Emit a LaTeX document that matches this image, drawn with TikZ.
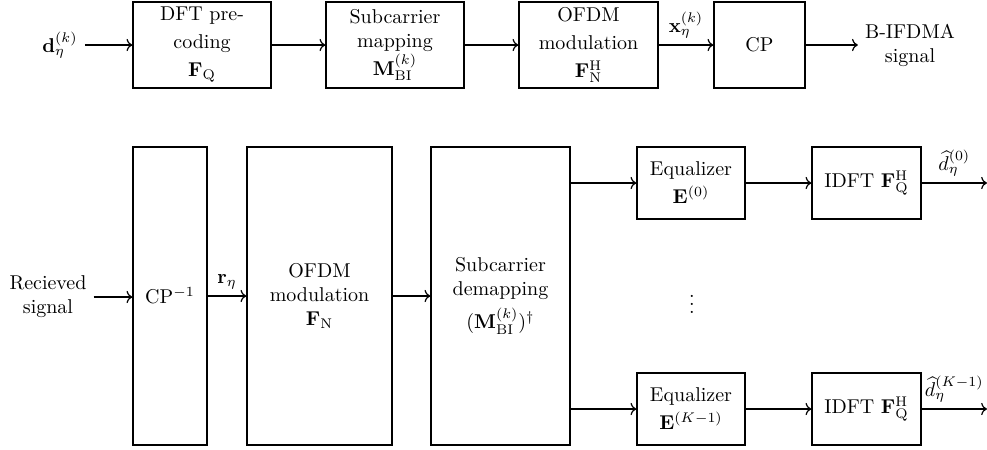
\documentclass[tikz,border=0pt]{standalone}
\usepackage{amsmath,amssymb,bm}
\usetikzlibrary{calc,arrows.meta}

\begin{document}
\begin{tikzpicture}[x=0.5pt,y=-0.5pt,semithick,>=To,
		blk/.style={draw,align=center,inner sep=2pt},
		txblk/.style={blk,minimum width=69pt,minimum height=43pt},
		tallblk/.style={blk,minimum height=149pt},
		brblk/.style={blk,minimum height=36pt}
	]
	\useasboundingbox (0,0) rectangle (987,450);
	% transmitter
	\node (din) at (60,45) {$\mathbf{d}_\eta^{(k)}$};
	\node[txblk] (pre) at (202,45) {DFT pre-\\[2pt]coding\\[2pt]$\mathbf{F}_{\mathrm{Q}}$};
	\node[txblk] (map) at (395,45) {Subcarrier\\mapping\\[0.5pt]$\mathbf{M}_{\mathrm{BI}}^{(k)}$};
	\node[txblk,minimum width=69.5pt] (ofdm) at (588.5,45) {OFDM\\[2pt]modulation\\[2pt]$\mathbf{F}_{\mathrm{N}}^{\mathrm{H}}$};
	\node[txblk,minimum width=45.5pt] (cp) at (759.5,45) {CP};
	\node[align=center] (tout) at (910,45) {B-IFDMA\\signal};
	\draw[->] (din) -- (pre);
	\draw[->] (pre) -- (map);
	\draw[->] (map) -- (ofdm);
	\draw[->] (ofdm) -- node[above]{$\mathbf{x}_\eta^{(k)}$} (cp);
	\draw[->] (cp) -- (tout);
	% receiver
	\node[align=center] (rin) at (48,297) {Recieved\\signal};
	\node[tallblk,minimum width=37pt] (cpr) at (170,296) {CP$^{-1}$};
	\node[tallblk,minimum width=72.5pt] (ofr) at (319.5,296) {OFDM\\modulation\\$\mathbf{F}_{\mathrm{N}}$};
	\node[tallblk,minimum width=69.5pt] (dem) at (500.5,296) {Subcarrier\\demapping\\[3pt]$(\mathbf{M}_{\mathrm{BI}}^{(k)})^{\dagger}$};
	\node[brblk,minimum width=54pt] (eq0) at (691,183) {Equalizer\\[2pt]$\mathbf{E}^{(0)}$};
	\node[brblk,minimum width=54pt] (eqK) at (691,409) {Equalizer\\[2pt]$\mathbf{E}^{(K-1)}$};
	\node[brblk,minimum width=54.5pt] (id0) at (866.5,183) {IDFT $\mathbf{F}_{\mathrm{Q}}^{\mathrm{H}}$};
	\node[brblk,minimum width=54.5pt] (idK) at (866.5,409) {IDFT $\mathbf{F}_{\mathrm{Q}}^{\mathrm{H}}$};
	\node (dots) at (692,298) {$\vdots$};
	\coordinate (o0) at (987,183);
	\coordinate (oK) at (987,409);
	\draw[->] (rin) -- (rin -| cpr.west);
	\draw[->] (cpr) -- node[above]{$\mathbf{r}_\eta$} (ofr);
	\draw[->] (ofr) -- (dem);
	\draw[->] (dem.east |- eq0) -- (eq0);
	\draw[->] (dem.east |- eqK) -- (eqK);
	\draw[->] (eq0) -- (id0);
	\draw[->] (eqK) -- (idK);
	\draw[->] (id0) -- node[above]{$\widehat{d}_\eta^{(0)}$} (o0);
	\draw[->] (idK) -- node[above]{$\widehat{d}_\eta^{(K-1)}$} (oK);
\end{tikzpicture}
\end{document}
